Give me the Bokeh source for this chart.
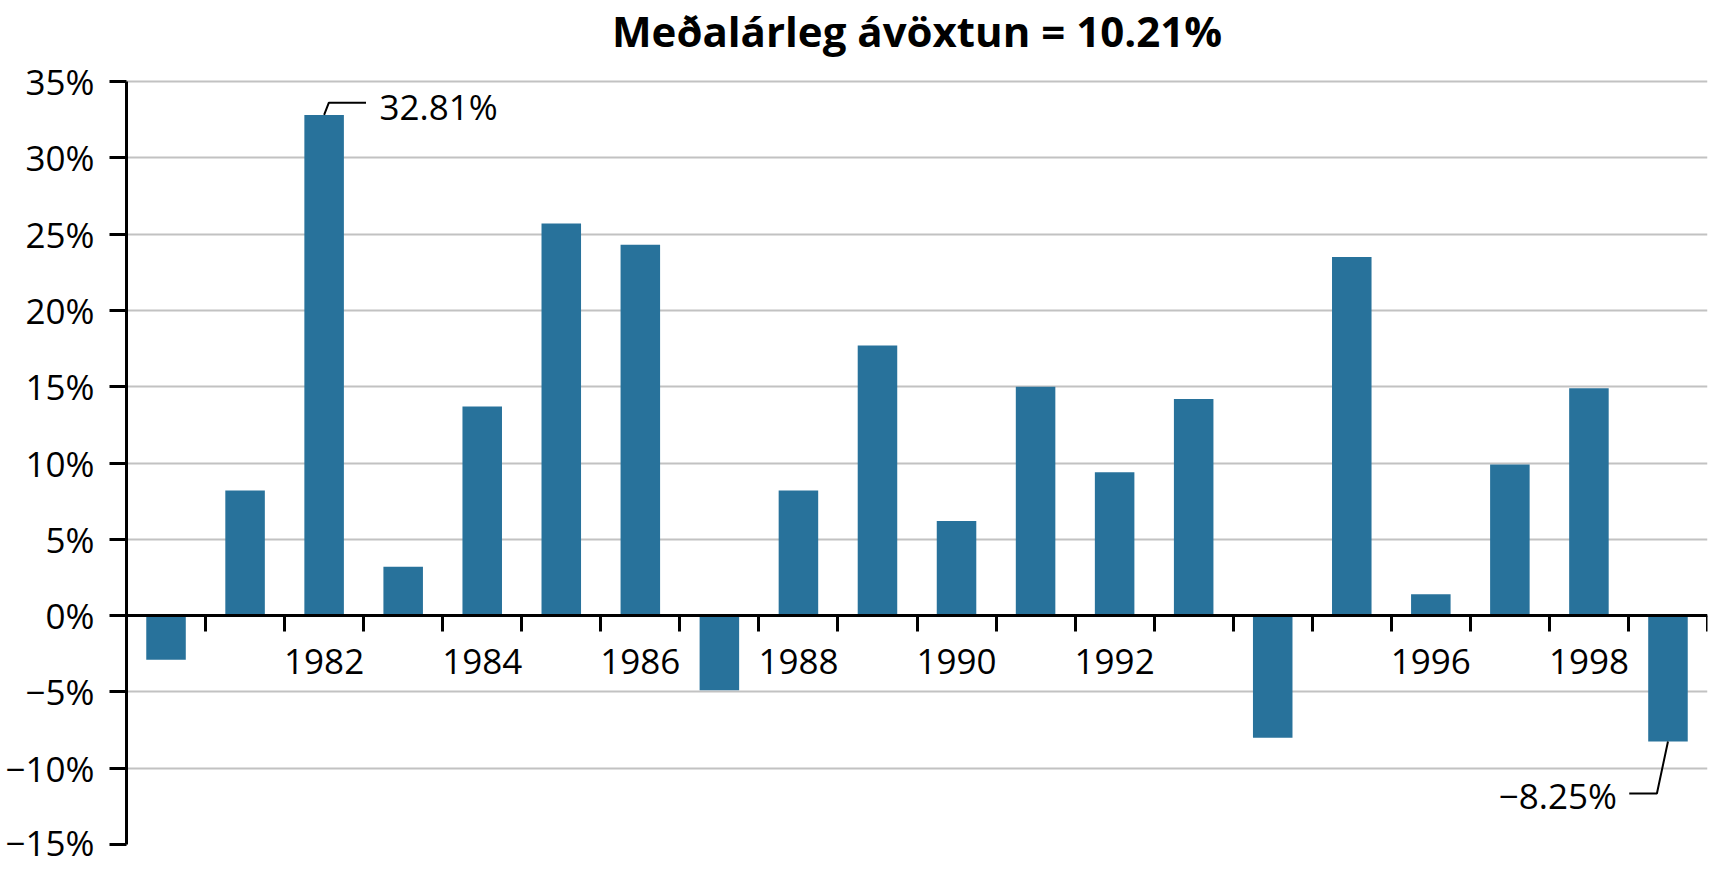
from bokeh.plotting import figure
from bokeh.models import LinearAxis, FixedTicker, Range1d, Label, Grid
from bokeh.embed import file_html
from bokeh.resources import INLINE

# ---- data ----
years = [1980, 1981, 1982, 1983, 1984, 1985, 1986, 1987, 1988, 1989,
         1990, 1991, 1992, 1993, 1994, 1995, 1996, 1997, 1998, 1999]
returns = [-2.9, 8.2, 32.81, 3.2, 13.7, 25.7, 24.3, -4.9, 8.2, 17.7,
           6.2, 15.0, 9.4, 14.2, -8.0, 23.5, 1.4, 9.9, 14.9, -8.25]
label_years = [1982, 1984, 1986, 1988, 1990, 1992, 1996, 1998]
y_ticks = [-15, -10, -5, 0, 5, 10, 15, 20, 25, 30, 35]
y_tick_labels = ["\u221215%", "\u221210%", "\u22125%", "0%", "5%", "10%",
                 "15%", "20%", "25%", "30%", "35%"]
title_text = "Meðalárleg ávöxtun = 10.21%"

FONT = "Open Sans"
BAR = "#28729b"
FS = "35px"

# layout (pixels): axis top / bottom and title anchor
H = 865
AXIS_TOP_PX = 81
AXIS_BOTTOM_PX = 844
TITLE_ANCHOR_PX = 30

y_lo, y_hi = y_ticks[0], y_ticks[-1]
px_per_unit = (AXIS_BOTTOM_PX - AXIS_TOP_PX) / (y_hi - y_lo)
y_top = y_hi + AXIS_TOP_PX / px_per_unit          # frame reaches the top of the canvas

x_start = years[0] - 0.5
x_end = years[-1] + 0.5

p = figure(width=1708, height=H, output_backend="svg", toolbar_location=None,
           x_range=Range1d(x_start, x_end), y_range=Range1d(y_lo, y_top),
           min_border_left=126, min_border_right=1, min_border_top=0,
           min_border_bottom=H - AXIS_BOTTOM_PX, x_axis_type=None, y_axis_type=None)
p.title = None
p.outline_line_color = None
p.background_fill_color = "white"

# title, centred over the plot area
p.add_layout(Label(x=(x_start + x_end) / 2,
                   y=y_hi + (AXIS_TOP_PX - TITLE_ANCHOR_PX) / px_per_unit,
                   text=title_text, text_font=FONT, text_font_style="bold",
                   text_font_size="42px", text_align="center",
                   text_baseline="alphabetic", text_color="black"))

# y axis
yax = LinearAxis(ticker=FixedTicker(ticks=y_ticks), bounds=(y_lo, y_hi),
                 major_label_overrides={t: s for t, s in zip(y_ticks, y_tick_labels)})
yax.axis_line_width = 3
yax.axis_line_color = "black"
yax.major_tick_line_width = 3
yax.major_tick_out = 17
yax.major_tick_in = 0
yax.minor_tick_line_color = None
yax.major_label_standoff = 15
yax.major_label_text_font = FONT
yax.major_label_text_font_size = FS
yax.major_label_text_color = "black"
p.add_layout(yax, "left")

# grid
grid = Grid(dimension=1, ticker=yax.ticker, grid_line_color="#c2c2c2", grid_line_width=2)
p.add_layout(grid, "center")

# bars
p.vbar(x=years, top=returns, bottom=0, width=0.5, fill_color=BAR, line_color=None)

# x axis (line + boundary ticks) at y = 0
boundaries = [y + 0.5 for y in years]
xax = LinearAxis(ticker=FixedTicker(ticks=boundaries), fixed_location=0)
xax.axis_line_width = 3
xax.axis_line_color = "black"
xax.major_tick_line_width = 3
xax.major_tick_out = 16
xax.major_tick_in = 0
xax.minor_tick_line_color = None
xax.major_label_text_font_size = "0px"
xax.major_label_text_color = None
p.add_layout(xax, "below")

# x labels at bar centers
lax = LinearAxis(ticker=FixedTicker(ticks=label_years), fixed_location=0,
                 major_label_overrides={y: str(y) for y in label_years})
lax.axis_line_color = None
lax.major_tick_line_color = None
lax.minor_tick_line_color = None
lax.major_tick_out = 0
lax.major_tick_in = 0
lax.major_label_standoff = 33
lax.major_label_text_font = FONT
lax.major_label_text_font_size = FS
lax.major_label_text_color = "black"
p.add_layout(lax, "below")

# annotations for max and min
i_max = returns.index(max(returns))
i_min = returns.index(min(returns))
xm, vm = years[i_max], returns[i_max]
p.line([xm, xm + 0.06, xm + 0.53], [vm, vm + 0.8, vm + 0.8], line_color="black", line_width=2)
p.add_layout(Label(x=xm + 0.70, y=vm + 0.56, text=f"{vm:.2f}%", text_font=FONT,
                   text_font_size=FS, text_baseline="middle", text_align="left",
                   text_color="black"))
xn, vn = years[i_min], returns[i_min]
p.line([xn, xn - 0.14, xn - 0.49], [vn, vn - 3.41, vn - 3.41], line_color="black", line_width=2)
p.add_layout(Label(x=xn - 0.645, y=vn - 3.57, text=f"\u2212{abs(vn):.2f}%", text_font=FONT,
                   text_font_size=FS, text_baseline="middle", text_align="right",
                   text_color="black"))

open("out.html", "w").write(file_html(p, INLINE))
